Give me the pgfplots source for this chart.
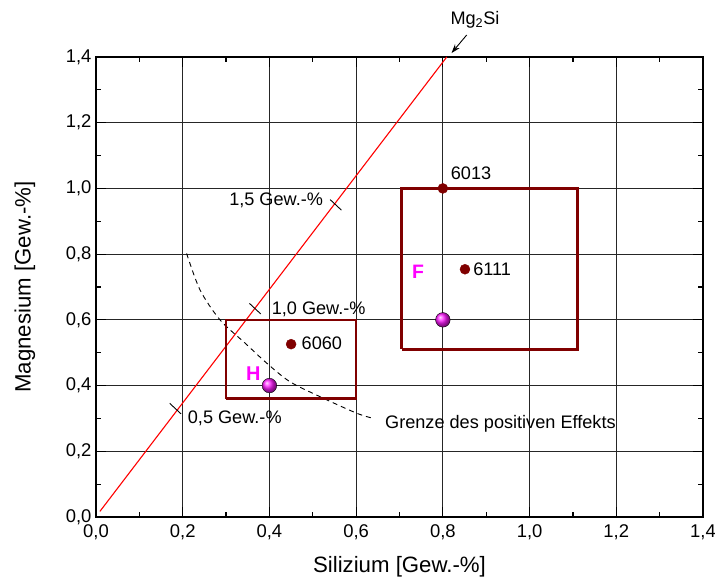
\documentclass[border=0pt]{standalone}
\usepackage{fontspec}
\setmainfont{Liberation Sans}
\usepackage{pgfplots}
\pgfplotsset{compat=1.18}
\usetikzlibrary{arrows.meta}

\definecolor{darkred}{HTML}{800000}
\definecolor{pink}{RGB}{255,0,255}
\newcommand{\annot}{\fontsize{18.2}{21}\selectfont}

\begin{document}
\begin{tikzpicture}
% page frame: 715 x 581, axis box starts 96 right / 64 up
\useasboundingbox (-96bp,-64bp) rectangle (619bp,517bp);
\begin{axis}[
  at={(0,0)}, anchor=south west,
  width=607bp, height=460bp, scale only axis,
  xmin=0, xmax=1.4, ymin=0, ymax=1.4,
  xtick={0,0.2,...,1.4}, ytick={0,0.2,...,1.4},
  minor tick num=1,
  tick align=inside,
  major tick length=10bp, minor tick length=5bp,
  xtick pos=both, ytick pos=both,
  grid=major, grid style={black!85, line width=0.8bp},
  axis line style={line width=1.6bp},
  every tick/.style={black, line width=1.2bp},
  /pgf/number format/.cd, use comma, fixed, fixed zerofill, precision=1, assume math mode=true,
  /pgfplots/.cd,
  tick label style={font=\fontsize{18.5}{21}\selectfont},
  xticklabel style={yshift=-4bp},
  yticklabel style={xshift=-1bp},
  xlabel={Silizium [Gew.-\%]},
  ylabel={Magnesium [Gew.-\%]},
  label style={font=\fontsize{22.3}{25}\selectfont},
  xlabel style={at={(axis description cs:0.5,0)}, anchor=center, yshift=-50bp},
  ylabel style={at={(axis description cs:0,0.5)}, anchor=center, yshift=71bp},
  clip=false,
]
% Mg2Si line
\addplot[red, line width=1.1bp] coordinates {(0.009,0.017) (0.809,1.4)};
% marks across the Mg2Si line: 0.5, 1.0, 1.5 wt.-%
\addplot[black, line width=0.9bp] coordinates {(0.170,0.346) (0.196,0.314)};
\addplot[black, line width=0.9bp] coordinates {(0.354,0.650) (0.380,0.618)};
\addplot[black, line width=0.9bp] coordinates {(0.540,0.966) (0.566,0.934)};
% limit of the positive effect
\addplot[black, line width=0.9bp, dash pattern=on 5bp off 4bp, smooth] coordinates {
  (0.209,0.802) (0.240,0.691) (0.286,0.600) (0.344,0.529) (0.394,0.468)
  (0.447,0.412) (0.517,0.366) (0.601,0.316) (0.640,0.300)};
% alloy windows
\addplot[darkred, line width=2.5bp] coordinates {(0.30,0.36) (0.60,0.36) (0.60,0.60) (0.30,0.60) (0.30,0.36)};
\addplot[darkred, line width=2.5bp] coordinates {(0.705,0.51) (1.11,0.51) (1.11,1.00) (0.705,1.00) (0.705,0.51)};
% alloys
\addplot[only marks, mark=*, mark size=5bp, darkred] coordinates {(0.80,1.00) (0.851,0.754) (0.450,0.526)};
\addplot[only marks, mark=ball, mark size=7.3bp, ball color=pink!90!white] coordinates {(0.40,0.40) (0.80,0.60)};
% Mg2Si arrow
\addplot[black, line width=0.9bp, -{Stealth[length=9bp, width=6bp]}] coordinates {(0.855,1.467) (0.820,1.412)};
\node[font=\annot] at (axis cs:0.874,1.512) {Mg\textsubscript{2}Si};
% labels
\node[font=\annot, anchor=east, inner sep=0pt] at (axis cs:0.524,0.963) {1,5 Gew.-\%};
\node[font=\annot, anchor=west, inner sep=0pt] at (axis cs:0.405,0.633) {1,0 Gew.-\%};
\node[font=\annot, anchor=west, inner sep=0pt] at (axis cs:0.2115,0.300) {0,5 Gew.-\%};
\node[font=\annot, anchor=west, inner sep=0pt] at (axis cs:0.6665,0.285) {Grenze des positiven Effekts};
\node[font=\annot, anchor=west, inner sep=0pt] at (axis cs:0.818,1.046) {6013};
\node[font=\annot, anchor=west, inner sep=0pt] at (axis cs:0.870,0.754) {6111};
\node[font=\annot, anchor=west, inner sep=0pt] at (axis cs:0.474,0.529) {6060};
\node[font=\fontsize{20}{22}\selectfont\bfseries, text=pink] at (axis cs:0.363,0.437) {H};
\node[font=\fontsize{19.5}{22}\selectfont\bfseries, text=pink] at (axis cs:0.743,0.746) {F};
\end{axis}
\end{tikzpicture}
\end{document}
